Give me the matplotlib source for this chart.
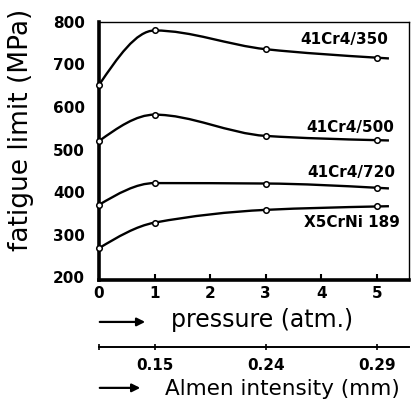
import numpy as np
import matplotlib.pyplot as plt
from matplotlib.path import Path
from matplotlib.patches import PathPatch

# data
pressure = [0, 1, 3, 5]
cr4_350 = [652, 780, 736, 716]
cr4_500 = [520, 582, 532, 522]
cr4_720 = [370, 421, 420, 410]
x5crni = [268, 328, 358, 366]
series = [cr4_350, cr4_500, cr4_720, x5crni]
series_names = ['41Cr4/350', '41Cr4/500', '41Cr4/720', 'X5CrNi 189']
y_ticks = [200, 300, 400, 500, 600, 700, 800]
x_ticks = [0, 1, 2, 3, 4, 5]
almen_ticks = [0, 1, 3, 5]
almen_labels = ['', '0.15', '0.24', '0.29']

# where the curve names sit (data coords)
label_pos = [(4.41, 758), (4.53, 551), (4.55, 445), (4.55, 329)]


def slopes(xs, ys):
    xs = np.asarray(xs, float)
    ys = np.asarray(ys, float)
    d = np.diff(ys) / np.diff(xs)
    m = np.zeros(len(xs))
    for i in range(1, len(xs) - 1):
        if d[i - 1] * d[i] <= 0:
            m[i] = 0
        else:
            m[i] = 2 * d[i - 1] * d[i] / (d[i - 1] + d[i])
    # natural ends
    m[0] = (3 * d[0] - m[1]) / 2
    m[-1] = (3 * d[-1] - m[-2]) / 2
    return m


def curve_path(xs, ys, tail=0.22):
    m = slopes(xs, ys)
    verts = [(xs[0], ys[0])]
    codes = [Path.MOVETO]
    for i in range(len(xs) - 1):
        h = xs[i + 1] - xs[i]
        verts += [(xs[i] + h / 3, ys[i] + m[i] * h / 3),
                  (xs[i + 1] - h / 3, ys[i + 1] - m[i + 1] * h / 3),
                  (xs[i + 1], ys[i + 1])]
        codes += [Path.CURVE4] * 3
    verts.append((xs[-1] + tail, ys[-1] + m[-1] * tail))
    codes.append(Path.LINETO)
    return Path(verts, codes)


plt.rcParams['font.family'] = 'DejaVu Sans'
fig = plt.figure(figsize=(4.11, 4.07), dpi=100)
ax = fig.add_axes([0.241, 0.312, 0.754, 0.634])

for vals, name, pos in zip(series, series_names, label_pos):
    ax.add_patch(PathPatch(curve_path(pressure, vals), fill=False,
                           lw=1.7, ec='black', zorder=3, clip_on=False))
    ax.plot(pressure, vals, 'o', ms=4, mfc='white', mec='black', mew=1.1,
            zorder=4, clip_on=False)
    ax.text(pos[0], pos[1], name, ha='center', va='center',
            fontsize=11, fontweight='bold')

ax.set_xlim(0, 5.58)
ax.set_ylim(193, 800)
ax.set_xticks(x_ticks)
ax.set_yticks(y_ticks)
ax.tick_params(axis='both', labelsize=11, width=1.5)
ax.tick_params(axis='y', length=0, pad=10)
ax.tick_params(axis='x', direction='in', length=4, pad=4)
for lab in ax.get_xticklabels() + ax.get_yticklabels():
    lab.set_fontweight('bold')

ax.spines['left'].set_linewidth(2.6)
ax.spines['bottom'].set_linewidth(2.6)
ax.spines['top'].set_linewidth(1.0)
ax.spines['right'].set_linewidth(1.0)

# second scale: Almen intensity
sec = ax.secondary_xaxis(-0.26)
sec.set_xticks(almen_ticks)
sec.set_xticklabels(almen_labels)
sec.tick_params(direction='inout', length=4, width=1.2, labelsize=11, pad=6)
sec.spines['bottom'].set_linewidth(1.4)
for lab in sec.get_xticklabels():
    lab.set_fontweight('bold')

fig.text(0.05, 0.68, 'fatigue limit (MPa)', rotation=90, ha='center',
         va='center', fontsize=19)
fig.text(0.638, 0.213, 'pressure (atm.)', ha='center', va='center', fontsize=17)
fig.text(0.686, 0.045, 'Almen intensity (mm)', ha='center', va='center',
         fontsize=15.5)

arrow = dict(arrowstyle='-|>', lw=1.6, color='black', mutation_scale=12)
ax.annotate('', xy=(0.36, 0.209), xytext=(0.236, 0.209),
            xycoords='figure fraction', arrowprops=arrow)
ax.annotate('', xy=(0.348, 0.047), xytext=(0.236, 0.047),
            xycoords='figure fraction', arrowprops=arrow)

fig.savefig('out.png', dpi=100)
